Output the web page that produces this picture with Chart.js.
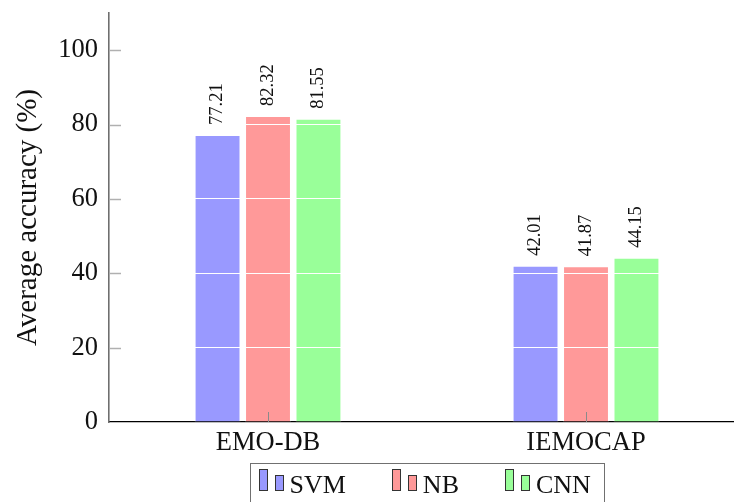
<!DOCTYPE html>
<html><head><meta charset="utf-8">
<script src="https://cdn.jsdelivr.net/npm/chart.js@4"></script>
<style>html,body{margin:0;padding:0;background:#fff;overflow:hidden;} #wrap{width:734px;height:502px;overflow:hidden;position:relative;} canvas{display:block;}</style>
</head><body><div id="wrap"><canvas id="c" width="746" height="502"></canvas></div>
<script>
const categories = ['EMO-DB', 'IEMOCAP'];
const seriesNames = ['SVM', 'NB', 'CNN'];
const svmValues = [77.21, 42.01];
const nbValues = [82.32, 41.87];
const cnnValues = [81.55, 44.15];
const yTickValues = [0, 20, 40, 60, 80, 100];
const yLabel = 'Average accuracy (%)';

const fills = ['#9999ff', '#ff9999', '#99ff99'];
const SERIF = '"Liberation Serif", "DejaVu Serif", serif';

const valueLabels = {
  id: 'valueLabels',
  afterDraw(chart) {
    const ctx = chart.ctx;
    ctx.save();
    ctx.font = '18.5px ' + SERIF;
    ctx.fillStyle = '#111';
    ctx.textAlign = 'left';
    ctx.textBaseline = 'middle';
    chart.data.datasets.forEach((ds, i) => {
      const meta = chart.getDatasetMeta(i);
      meta.data.forEach((bar, j) => {
        ctx.save();
        ctx.translate(bar.x, bar.y - 10);
        ctx.rotate(-Math.PI / 2);
        ctx.fillText(ds.data[j].toFixed(2), 0, 0);
        ctx.restore();
      });
    });
    ctx.restore();
  }
};

const tickMarks = {
  id: 'tickMarks',
  afterDraw(chart) {
    const ctx = chart.ctx;
    const ys = chart.scales.y, xs = chart.scales.x;
    const a = chart.chartArea;
    ctx.save();
    ctx.strokeStyle = '#b0b0b0';
    ctx.lineWidth = 1.5;
    yTickValues.forEach(v => {
      if (v === 0) return;
      const py = Math.round(ys.getPixelForValue(v)) + 0.5;
      ctx.beginPath();
      ctx.moveTo(a.left + 1, py);
      ctx.lineTo(a.left + 12, py);
      ctx.stroke();
    });
    ctx.strokeStyle = '#8a8a8a';
    ctx.lineWidth = 1;
    categories.forEach((c, i) => {
      const px = Math.round(xs.getPixelForValue(i)) + 0.5;
      ctx.beginPath();
      ctx.moveTo(px, a.bottom);
      ctx.lineTo(px, a.bottom - 10);
      ctx.stroke();
    });
    ctx.restore();
  }
};

const boxLegend = {
  id: 'boxLegend',
  afterDraw(chart) {
    const ctx = chart.ctx;
    const a = chart.chartArea;
    ctx.save();
    ctx.font = '26px ' + SERIF;
    const gap = 46, iconW = 31;
    const widths = chart.data.datasets.map(ds => ctx.measureText(ds.label).width);
    const itemsW = widths.reduce((s, w) => s + iconW + w, 0) + gap * (widths.length - 1);
    const boxW = Math.round(itemsW + 8 + 14);
    const cx = (a.left + a.right) / 2;
    const boxL = Math.round(cx - boxW / 2) + 0.5;
    const boxT = 463.5;
    ctx.strokeStyle = '#707070';
    ctx.lineWidth = 1;
    ctx.strokeRect(boxL, boxT, boxW, 50);
    let x = boxL + 8;
    chart.data.datasets.forEach((ds, i) => {
      const ix = Math.round(x);
      ctx.fillStyle = ds.backgroundColor;
      ctx.strokeStyle = '#333';
      ctx.lineWidth = 1;
      ctx.fillRect(ix, 469, 9, 22);
      ctx.strokeRect(ix + 0.5, 469.5, 8, 21);
      ctx.fillRect(ix + 16, 475, 9, 16);
      ctx.strokeRect(ix + 16.5, 475.5, 8, 15);
      ctx.fillStyle = '#111';
      ctx.textAlign = 'left';
      ctx.textBaseline = 'alphabetic';
      ctx.fillText(ds.label, x + iconW, 493);
      x += iconW + widths[i] + gap;
    });
    ctx.restore();
  }
};

const seriesValues = [svmValues, nbValues, cnnValues];

new Chart(document.getElementById('c'), {
  type: 'bar',
  data: {
    labels: categories,
    datasets: seriesNames.map((n, i) => ({
      label: n,
      data: seriesValues[i],
      backgroundColor: fills[i],
      borderColor: 'rgba(255,255,255,0.7)',
      borderWidth: 1,
      categoryPercentage: 0.476,
      barPercentage: 0.91
    }))
  },
  options: {
    responsive: false,
    animation: false,
    devicePixelRatio: 1,
    layout: { padding: { top: 13, right: 1, left: 0, bottom: 0 } },
    plugins: { legend: { display: false }, tooltip: { enabled: false } },
    scales: {
      x: {
        type: 'category',
        offset: true,
        grid: { display: false, drawTicks: false },
        border: { color: '#000', width: 1.3 },
        ticks: { font: { family: SERIF, size: 26.5 }, color: '#111', padding: 5, maxRotation: 0 },
        afterFit(s) { s.height = 80; s.paddingLeft = 0; s.paddingRight = 0; }
      },
      y: {
        min: 0,
        max: 110,
        grid: { z: 1, color: (c) => (c.tick && c.tick.value <= 100 && c.tick.value > 0) ? '#ffffff' : 'rgba(0,0,0,0)', lineWidth: 1, drawTicks: false },
        border: { z: 1, color: '#6f6f6f', width: 1.6 },
        ticks: {
          stepSize: 20,
          padding: 11,
          font: { family: SERIF, size: 26.5 },
          color: '#111',
          callback: (v) => yTickValues.includes(v) ? String(v) : ''
        },
        title: { display: true, text: yLabel, font: { family: SERIF, size: 29 }, color: '#111', padding: { top: 11, bottom: 0 } },
        afterFit(s) { s.width = 109; s.paddingTop = 0; s.paddingBottom = 0; }
      }
    }
  },
  plugins: [valueLabels, tickMarks, boxLegend]
});
</script>
</body></html>
